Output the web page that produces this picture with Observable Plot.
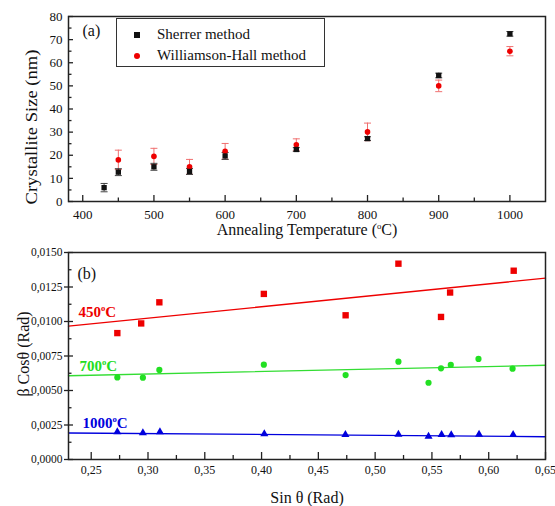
<!DOCTYPE html>
<html><head><meta charset="utf-8">
<script src="https://cdn.jsdelivr.net/npm/d3@7"></script>
<script src="https://cdn.jsdelivr.net/npm/@observablehq/plot@0.6"></script>
<style>
body{margin:0;background:#fff;}
#wrap{position:relative;width:555px;height:506px;font-family:"Liberation Serif","Times New Roman",serif;overflow:hidden;}
#top,#bot{position:absolute;left:0;}
#top{top:0;}
#bot{top:240px;}
#legend{position:absolute;left:116px;top:18px;width:209px;height:49px;border:1px solid #333;box-sizing:border-box;background:#fff;}
#legend .sym{position:absolute;}
#legend .lab{position:absolute;left:40px;font-size:15px;line-height:16px;color:#111;white-space:nowrap;}
</style></head>
<body>
<div id="wrap"><div id="top"></div><div id="bot"></div>
<div id="legend">
  <span class="sym" style="left:17px;top:13px;width:6px;height:6px;background:#111;"></span>
  <span class="lab" style="top:7px;">Sherrer method</span>
  <span class="sym" style="left:17px;top:34px;width:6px;height:6px;border-radius:50%;background:#ee0000;"></span>
  <span class="lab" style="top:28px;">Williamson-Hall method</span>
</div>
</div>
<script>
// ---------- Panel (a) data ----------
const temps = [430, 450, 500, 550, 600, 700, 800, 900, 1000];
const scherrer = [6, 12.7, 15, 13, 19.7, 22.5, 27.2, 54.5, 72.5];
const scherrerErr = [1.8, 1.5, 1.5, 1.3, 1.5, 0.8, 0.8, 1, 1];
const whTemps = [450, 500, 550, 600, 700, 800, 900, 1000];
const wh = [18, 19.5, 15, 21.7, 24.5, 30.1, 50, 65];
const whErr = [4.2, 3.5, 3.2, 3.4, 2.6, 3.8, 2.5, 2];
const aXTicks = [400, 500, 600, 700, 800, 900, 1000];
const aXMinor = [450, 550, 650, 750, 850, 950];
const aYTicks = [0, 10, 20, 30, 40, 50, 60, 70, 80];
const aYMinor = [5, 15, 25, 35, 45, 55, 65, 75];

// ---------- Panel (b) data ----------
const sin450 = [0.273, 0.294, 0.310, 0.402, 0.474, 0.5205, 0.558, 0.566, 0.622];
const beta450 = [0.00916, 0.00986, 0.01139, 0.0120, 0.01045, 0.01419, 0.01033, 0.01210, 0.01368];
const sin700 = [0.273, 0.2955, 0.310, 0.402, 0.474, 0.5205, 0.547, 0.558, 0.5666, 0.591, 0.621];
const beta700 = [0.00595, 0.00593, 0.00649, 0.00687, 0.00612, 0.00709, 0.00556, 0.00661, 0.00685, 0.00729, 0.00658];
const sin1000 = [0.273, 0.2955, 0.3105, 0.4024, 0.4738, 0.5205, 0.547, 0.5585, 0.567, 0.5915, 0.6215];
const beta1000 = [0.00200, 0.00193, 0.00200, 0.00186, 0.00180, 0.00182, 0.00168, 0.00180, 0.00178, 0.00182, 0.00180];
const fitX = [0.23, 0.65];
const fit450 = [0.00966, 0.01314];
const fit700 = [0.00607, 0.00683];
const fit1000 = [0.00192, 0.00165];
const bXTicks = [0.25, 0.30, 0.35, 0.40, 0.45, 0.50, 0.55, 0.60, 0.65];
const bXMinor = [0.275, 0.325, 0.375, 0.425, 0.475, 0.525, 0.575, 0.625];
const bYTicks = [0, 0.0025, 0.005, 0.0075, 0.01, 0.0125, 0.015];
const bYMinor = [0.00125, 0.00375, 0.00625, 0.00875, 0.01125, 0.01375];

const FONT = '"Liberation Serif","Times New Roman",serif';
const RED = "#ee0000", GREEN = "#22e022", BLUE = "#0000dd";

const rowsA = temps.map((t, i) => ({t, v: scherrer[i], e: scherrerErr[i]}));
const rowsB = whTemps.map((t, i) => ({t, v: wh[i], e: whErr[i]}));

const cap = {draw(ctx, size) { const w = Math.sqrt(size / Math.PI); ctx.moveTo(-w, 0); ctx.lineTo(w, 0); }};

function errBars(rows, color) {
  return [
    Plot.ruleX(rows, {x: "t", y1: d => d.v - d.e, y2: d => d.v + d.e, stroke: color, strokeWidth: 1}),
    Plot.dot(rows, {x: "t", y: d => d.v + d.e, symbol: cap, r: 3.5, stroke: color, strokeWidth: 1}),
    Plot.dot(rows, {x: "t", y: d => d.v - d.e, symbol: cap, r: 3.5, stroke: color, strokeWidth: 1})
  ];
}

function frameTicks(xMaj, xMin, yMaj, yMin, fw, fh, xl, xs, yl, ys, yOut) {
  return [
    Plot.tickX(xMaj, {x: d => d, insetTop: fh - xl, stroke: "#222", strokeWidth: 1.3}),
    Plot.tickX(xMin, {x: d => d, insetTop: fh - xs, stroke: "#222", strokeWidth: 1.3}),
    Plot.tickY(yMaj, {y: d => d, insetLeft: -yOut, insetRight: fw - yl, stroke: "#222", strokeWidth: 1.3}),
    Plot.tickY(yMin, {y: d => d, insetRight: fw - ys, stroke: "#222", strokeWidth: 1.3})
  ];
}

function supO(svg) {
  d3.select(svg).selectAll("text").each(function() {
    const t = this.textContent;
    const i = t.indexOf("°");
    if (i < 0 || this.querySelector("tspan")) return;
    const fs = parseFloat(getComputedStyle(this).fontSize) || 14;
    const s = d3.select(this);
    s.text(null);
    s.append("tspan").text(t.slice(0, i));
    s.append("tspan").attr("dy", -0.42 * fs).attr("font-size", 0.62 * fs).text("o");
    s.append("tspan").attr("dy", 0.42 * fs).text(t.slice(i + 1));
  });
}

// ---------- Panel (a) ----------
const A = {W: 555, H: 240, ml: 68, mr: 10, mt: 16, mb: 39};
const aFW = A.W - A.ml - A.mr, aFH = A.H - A.mt - A.mb;
const plotA = Plot.plot({
  width: A.W, height: A.H, marginLeft: A.ml, marginRight: A.mr, marginTop: A.mt, marginBottom: A.mb,
  x: {domain: [380, 1050]}, y: {domain: [0, 80]},
  style: {fontFamily: FONT, fontSize: "13px", color: "#111", background: "transparent", overflow: "visible"},
  marks: [
    ...errBars(rowsB, "#f07070"),
    ...errBars(rowsA, "#444"),
    Plot.dot(rowsB, {x: "t", y: "v", r: 2.8, fill: RED}),
    Plot.dot(rowsA, {x: "t", y: "v", symbol: "square", r: 3, fill: "#111"}),
    ...frameTicks(aXTicks, aXMinor, aYTicks, aYMinor, aFW, aFH, 6, 3.5, 5, 3.5, 0),
    Plot.axisX({ticks: aXTicks, tickSize: 0, tickPadding: 8, label: null, tickFormat: d => String(d)}),
    Plot.axisY({ticks: aYTicks, tickSize: 0, tickPadding: 6, label: null, tickFormat: d => String(d)}),
    Plot.frame({stroke: "#222", strokeWidth: 1.5}),
    Plot.text(["(a)"], {frameAnchor: "top-left", dx: 14, dy: 14, textAnchor: "start", lineAnchor: "middle", fontSize: 16}),
    Plot.text(["Annealing Temperature (°C)"], {frameAnchor: "bottom", dy: 28, textAnchor: "middle", lineAnchor: "middle", fontSize: 16}),
    Plot.text(["Crystallite Size (nm)"], {frameAnchor: "left", dx: -37, dy: 18, rotate: -90, textAnchor: "middle", lineAnchor: "middle", fontSize: 17.5})
  ]
});
supO(plotA);
d3.select(plotA).selectAll("text").filter(function() { return this.textContent === "Crystallite Size (nm)"; })
  .attr("textLength", 155).attr("lengthAdjust", "spacingAndGlyphs");
document.getElementById("top").appendChild(plotA);

// ---------- Panel (b) ----------
const B = {W: 555, H: 266, ml: 68, mr: 10, mt: 12, mb: 47};
const bFW = B.W - B.ml - B.mr, bFH = B.H - B.mt - B.mb;
const s450 = sin450.map((x, i) => ({x, y: beta450[i]}));
const s700 = sin700.map((x, i) => ({x, y: beta700[i]}));
const s1000 = sin1000.map((x, i) => ({x, y: beta1000[i]}));
const fits = [fit450, fit700, fit1000];
const fitCols = [RED, "#33dd33", BLUE];
const comma = f => d => d3.format(f)(d).replace(".", ",");

const plotB = Plot.plot({
  width: B.W, height: B.H, marginLeft: B.ml, marginRight: B.mr, marginTop: B.mt, marginBottom: B.mb,
  x: {domain: [0.23, 0.65]}, y: {domain: [0, 0.015]},
  style: {fontFamily: FONT, fontSize: "12px", color: "#111", background: "transparent", overflow: "visible"},
  marks: [
    ...fits.map((f, k) => Plot.line(fitX.map((x, i) => ({x, y: f[i]})), {x: "x", y: "y", stroke: fitCols[k], strokeWidth: 1.3})),
    Plot.dot(s450, {x: "x", y: "y", symbol: "square", r: 3.6, fill: RED}),
    Plot.dot(s700, {x: "x", y: "y", r: 3.1, fill: GREEN}),
    Plot.dot(s1000, {x: "x", y: "y", symbol: "triangle", r: 3, fill: BLUE}),
    ...frameTicks(bXTicks, bXMinor, bYTicks, bYMinor, bFW, bFH, 7, 4, 5, 3.5, 4),
    Plot.axisX({ticks: bXTicks, tickSize: 0, tickPadding: 6, label: null, tickFormat: comma(".2f")}),
    Plot.axisY({ticks: bYTicks, tickSize: 0, tickPadding: 6, label: null, tickFormat: comma(".4f"), fontSize: 11.5}),
    Plot.frame({stroke: "#222", strokeWidth: 1.5}),
    Plot.text(["(b)"], {frameAnchor: "top-left", dx: 9, dy: 21, textAnchor: "start", lineAnchor: "middle", fontSize: 16}),
    Plot.text(["450°C"], {frameAnchor: "top-left", dx: 10, dy: 60, textAnchor: "start", lineAnchor: "middle", fontSize: 15, fontWeight: "bold", fill: RED}),
    Plot.text(["700°C"], {frameAnchor: "top-left", dx: 11, dy: 114, textAnchor: "start", lineAnchor: "middle", fontSize: 15, fontWeight: "bold", fill: "#22dd22"}),
    Plot.text(["1000°C"], {frameAnchor: "top-left", dx: 14, dy: 171, textAnchor: "start", lineAnchor: "middle", fontSize: 15, fontWeight: "bold", fill: BLUE}),
    Plot.text(["Sin θ (Rad)"], {frameAnchor: "bottom", dy: 38, textAnchor: "middle", lineAnchor: "middle", fontSize: 16}),
    Plot.text(["β Cosθ (Rad)"], {frameAnchor: "left", dx: -45, dy: -2, rotate: -90, textAnchor: "middle", lineAnchor: "middle", fontSize: 16})
  ]
});
supO(plotB);
document.getElementById("bot").appendChild(plotB);
</script>
</body></html>
